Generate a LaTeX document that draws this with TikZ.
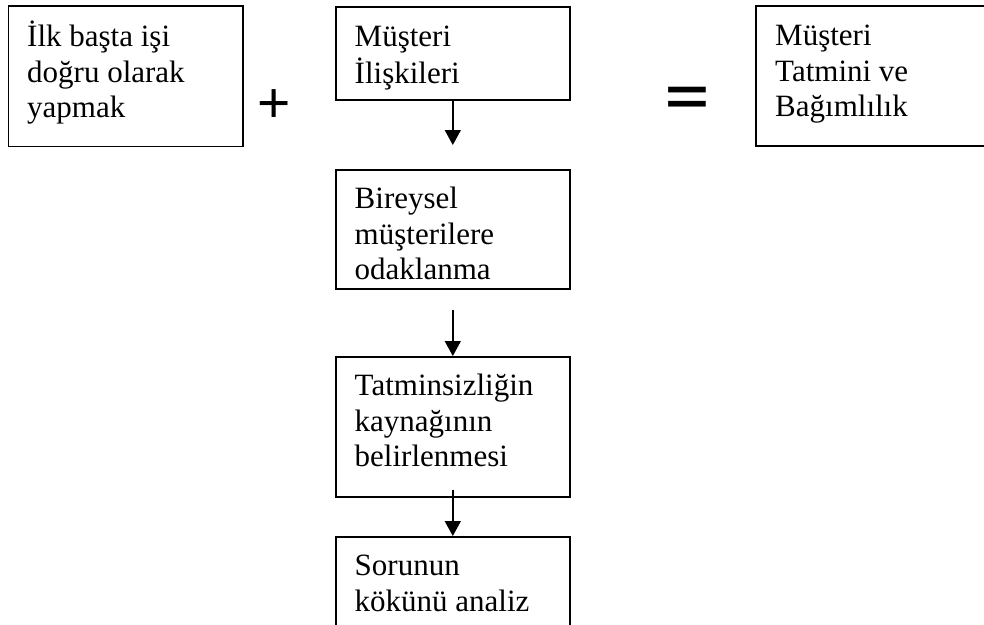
\documentclass[tikz,border=0pt]{standalone}
\usepackage{fontspec}
\usepackage{graphicx}
\setmainfont{Liberation Serif}
\newfontfamily\opfont{Liberation Sans}
\usetikzlibrary{arrows.meta}

\tikzset{
  box/.style={draw=black, line width=1.6pt, inner sep=0pt, anchor=north west},
  txt/.style={anchor=north west, inner sep=0pt, align=left,
              font=\fontsize{31}{35.5}\selectfont},
  arr/.style={draw=black, line width=1.6pt, -{Triangle[width=16pt,length=15pt]}},
  op/.style={inner sep=0pt, anchor=base}
}

\begin{document}
\begin{tikzpicture}[x=1pt, y=-1pt]
  \useasboundingbox (0,0) rectangle (984,624);
  \clip (0,0) rectangle (984,624);

  % top row: cause + relations = result
  \node[box, minimum width=234.5pt, minimum height=140.5pt] (b1) at (7.5,5) {};
  \node[box, minimum width=234pt,   minimum height=93pt]    (b2) at (335,6) {};
  \node[box, minimum width=240pt,   minimum height=140pt]   (b6) at (755,5) {};

  % chain under the relations box
  \node[box, minimum width=234pt, minimum height=119pt] (b3) at (335,169) {};
  \node[box, minimum width=234pt, minimum height=140pt] (b4) at (335,356) {};
  \node[box, minimum width=234pt, minimum height=110pt] (b5) at (335,536) {};

  % box texts
  \node[txt] (t1) at ([shift={(19.5,16)}]b1.north west) {\strut İlk başta işi\\doğru olarak\\yapmak};
  \node[txt] (t2) at ([shift={(19.5,15.5)}]b2.north west) {\strut Müşteri\\İlişkileri};
  \node[txt] (t6) at ([shift={(20,15.5)}]b6.north west) {\strut Müşteri\\Tatmini ve\\Bağımlılık};
  \node[txt] (t3) at ([shift={(19.5,14.5)}]b3.north west) {\strut Bireysel\\müşterilere\\odaklanma};
  \node[txt] (t4) at ([shift={(19.5,14.5)}]b4.north west) {\strut Tatminsizliğin\\kaynağının\\belirlenmesi};
  \node[txt] (t5) at ([shift={(19.5,14.5)}]b5.north west) {\strut Sorunun\\kökünü analiz};

  % operators
  \node[op, font=\opfont\fontsize{57}{60}\selectfont] (plus) at (274,122) {+};
  \node[op, font=\opfont\bfseries\fontsize{75}{80}\selectfont] (eq) at (687,114) {\scalebox{1}[0.7]{=}};

  % arrows
  \draw[arr] (b2.south) -- ([yshift=24pt]b3.north);
  \draw[arr] ([yshift=-20pt]b3.south) -- (b4.north);
  \draw[arr] ([yshift=8pt]b4.south) -- (b5.north);
\end{tikzpicture}
\end{document}
